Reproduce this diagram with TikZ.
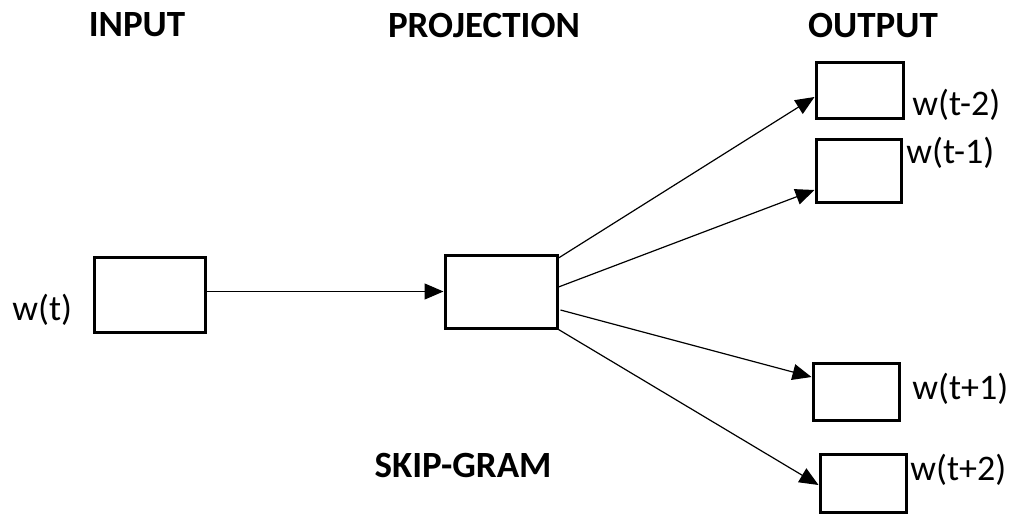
\documentclass[tikz,border=0pt]{standalone}
\usepackage{fontspec}
\setmainfont{Carlito}
\usetikzlibrary{arrows.meta,positioning,calc}

\begin{document}
\begin{tikzpicture}[x=0.5pt,y=-0.5pt,font=\fontsize{18}{21}\selectfont,
  wbox/.style={draw,line width=1.5pt,inner sep=0pt},
  head/.style={font=\fontsize{18.5}{22}\selectfont\bfseries},
  word/.style={anchor=west,inner sep=0pt},
  link/.style={-{Triangle[length=9.5pt,width=8pt]},line width=0.6pt}]
  \useasboundingbox (0,0) rectangle (1014,514);

  % column heads
  \node[head] (hin) at (137,25) {INPUT};
  \node[head] (hproj) at (484,25) {PROJECTION};
  \node[head] (hout) at (873,26) {OUTPUT};
  \node[head] (model) at (463,465) {SKIP-GRAM};

  % layers
  \node[wbox,minimum width=55.5pt,minimum height=37.5pt] (in) at (149.5,294.5) {};
  \node[wbox,minimum width=56pt,minimum height=36.5pt] (proj) at (501,291.5) {};
  \node[wbox,minimum width=43.5pt,minimum height=28pt] (out1) at (859.5,90) {};
  \node[wbox,minimum width=42.5pt,minimum height=31.5pt] (out2) at (858.5,170.5) {};
  \node[wbox,minimum width=43pt,minimum height=28.5pt] (out3) at (856,391.5) {};
  \node[wbox,minimum width=43pt,minimum height=29pt] (out4) at (863,483) {};

  \node[word] (win) at (12,310) {w(t)};
  \node[word] (wm2) at (912,105) {w(t-2)};
  \node[word] (wm1) at (906,153) {w(t-1)};
  \node[word] (wp1) at (912,389) {w(t+1)};
  \node[word] (wp2) at (910,470) {w(t+2)};

  % context arrows
  \draw[link] ($(in.east)+(0,-3)$) -- (proj.west);
  \draw[link] ($(proj.east)+(0,-33.5)$) -- ($(out1.west)+(0,7)$);
  \draw[link] ($(proj.east)+(0,-4.5)$) -- ($(out2.west)+(0,19.5)$);
  \draw[link] ($(proj.east)+(2,18.5)$) -- ($(out3.west)+(0,-14.5)$);
  \draw[link] (proj.south east) -- ($(out4.west)+(0,2)$);
\end{tikzpicture}
\end{document}
